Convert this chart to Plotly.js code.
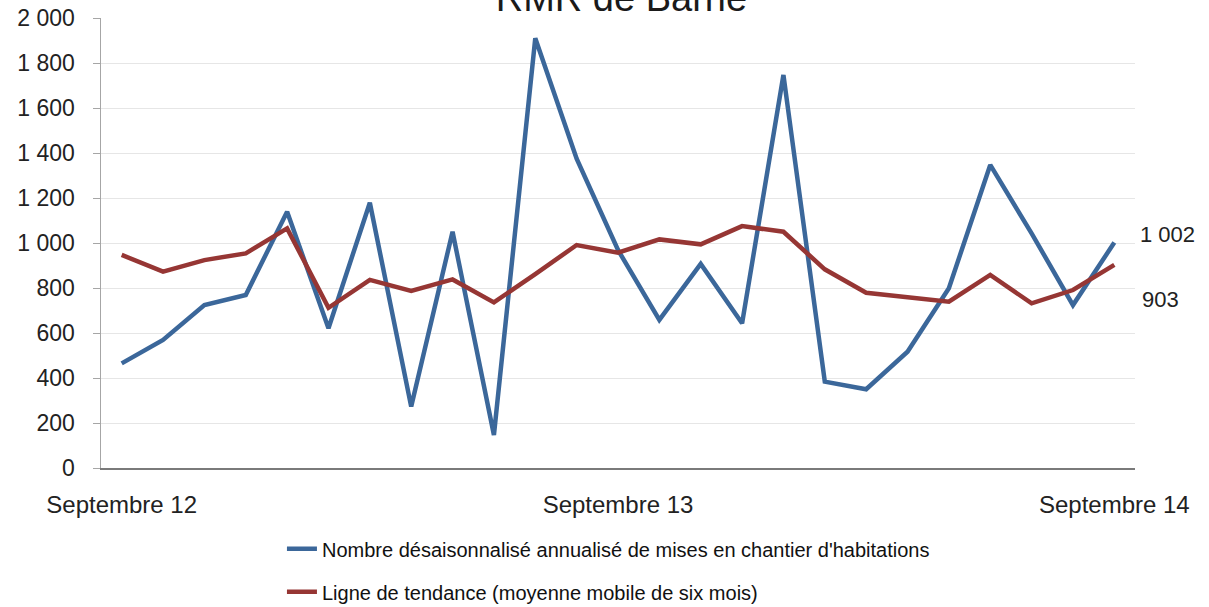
<!DOCTYPE html>
<html>
<head>
<meta charset="utf-8">
<script src="https://cdn.plot.ly/plotly-3.0.1.min.js"></script>
<style>html,body{margin:0;padding:0;background:#fff;}#chart{width:1209px;height:607px;}</style>
</head>
<body>
<div id="chart"></div>
<script>
const months = ["Septembre 12","Octobre 12","Novembre 12","Décembre 12","Janvier 13","Février 13","Mars 13","Avril 13","Mai 13","Juin 13","Juillet 13","Août 13","Septembre 13","Octobre 13","Novembre 13","Décembre 13","Janvier 14","Février 14","Mars 14","Avril 14","Mai 14","Juin 14","Juillet 14","Août 14","Septembre 14"];
const starts = [465, 569, 724, 769, 1139, 621, 1179, 273, 1050, 147, 1910, 1375, 969, 658, 907, 643, 1747, 384, 350, 517, 799, 1347, 1043, 724, 1002];
const trend = [947, 873, 924, 954, 1065, 712, 836, 787, 838, 736, 862, 991, 957, 1016, 994, 1075, 1050, 883, 779, 761, 739, 858, 732, 791, 903];
const tickLabels = ["Septembre 12","Septembre 13","Septembre 14"];
const seriesNames = ["Nombre désaisonnalisé annualisé de mises en chantier d'habitations","Ligne de tendance (moyenne mobile de six mois)"];
const titleText = "RMR de Barrie";

function fmt(v){ return String(Math.round(v)).replace(/\B(?=(\d{3})+(?!\d))/g, " "); }

const blue = "#3b679a";
const red = "#963634";
const font = "Liberation Sans, Arial, sans-serif";

const traces = [
  {x: months, y: starts, type: "scatter", mode: "lines", name: seriesNames[0], legendgroup: "a",
   line: {color: blue, width: 4.5}},
  {x: months, y: trend, type: "scatter", mode: "lines", name: seriesNames[1], legendgroup: "b",
   line: {color: red, width: 4.5}}
];

const last = months.length - 1;
const layout = {
  width: 1209, height: 607,
  paper_bgcolor: "#fff", plot_bgcolor: "#fff",
  separators: ", ",
  margin: {l: 101, r: 74, t: 18, b: 139},
  font: {family: font, color: "#222", size: 22},
  title: {text: titleText, font: {family: font, size: 38, color: "#1a1a1a"},
          x: 0.514, xanchor: "center", yref: "container", y: 0.982, yanchor: "bottom"},
  showlegend: true,
  legend: {orientation: "v", x: 0.175, xanchor: "left", yref: "container", y: 0.128, yanchor: "top",
           traceorder: "grouped", tracegroupgap: 14, font: {family: font, size: 20, color: "#111"},
           bgcolor: "rgba(0,0,0,0)"},
  xaxis: {type: "category", range: [-0.5, 24.5], fixedrange: true,
          tickmode: "array", tickvals: tickLabels, ticktext: tickLabels,
          showgrid: false, showline: true, linecolor: "#7a7a7a", linewidth: 1.5,
          ticks: "", tickangle: 0, ticklabelstandoff: 15,
          tickfont: {family: font, size: 24, color: "#222"}},
  yaxis: {range: [0, 2000], dtick: 200, tick0: 0, tickformat: ",d", fixedrange: true,
          showgrid: true, gridcolor: "#e6e6e6", gridwidth: 1,
          showline: true, linecolor: "#a6a6a6", linewidth: 1.5,
          ticks: "outside", ticklen: 7, tickcolor: "#a6a6a6", ticklabelstandoff: 13,
          zeroline: false, tickfont: {family: font, size: 23, color: "#222"}},
  annotations: [
    {x: months[last], y: starts[last], xref: "x", yref: "y", text: fmt(starts[last]), showarrow: false,
     xanchor: "left", yanchor: "middle", xshift: 24, yshift: 8, font: {family: font, size: 22, color: "#222"}},
    {x: months[last], y: trend[last], xref: "x", yref: "y", text: fmt(trend[last]), showarrow: false,
     xanchor: "left", yanchor: "middle", xshift: 26, yshift: -35, font: {family: font, size: 22, color: "#222"}}
  ]
};

Plotly.newPlot("chart", traces, layout, {displayModeBar: false, staticPlot: true});
</script>
</body>
</html>
